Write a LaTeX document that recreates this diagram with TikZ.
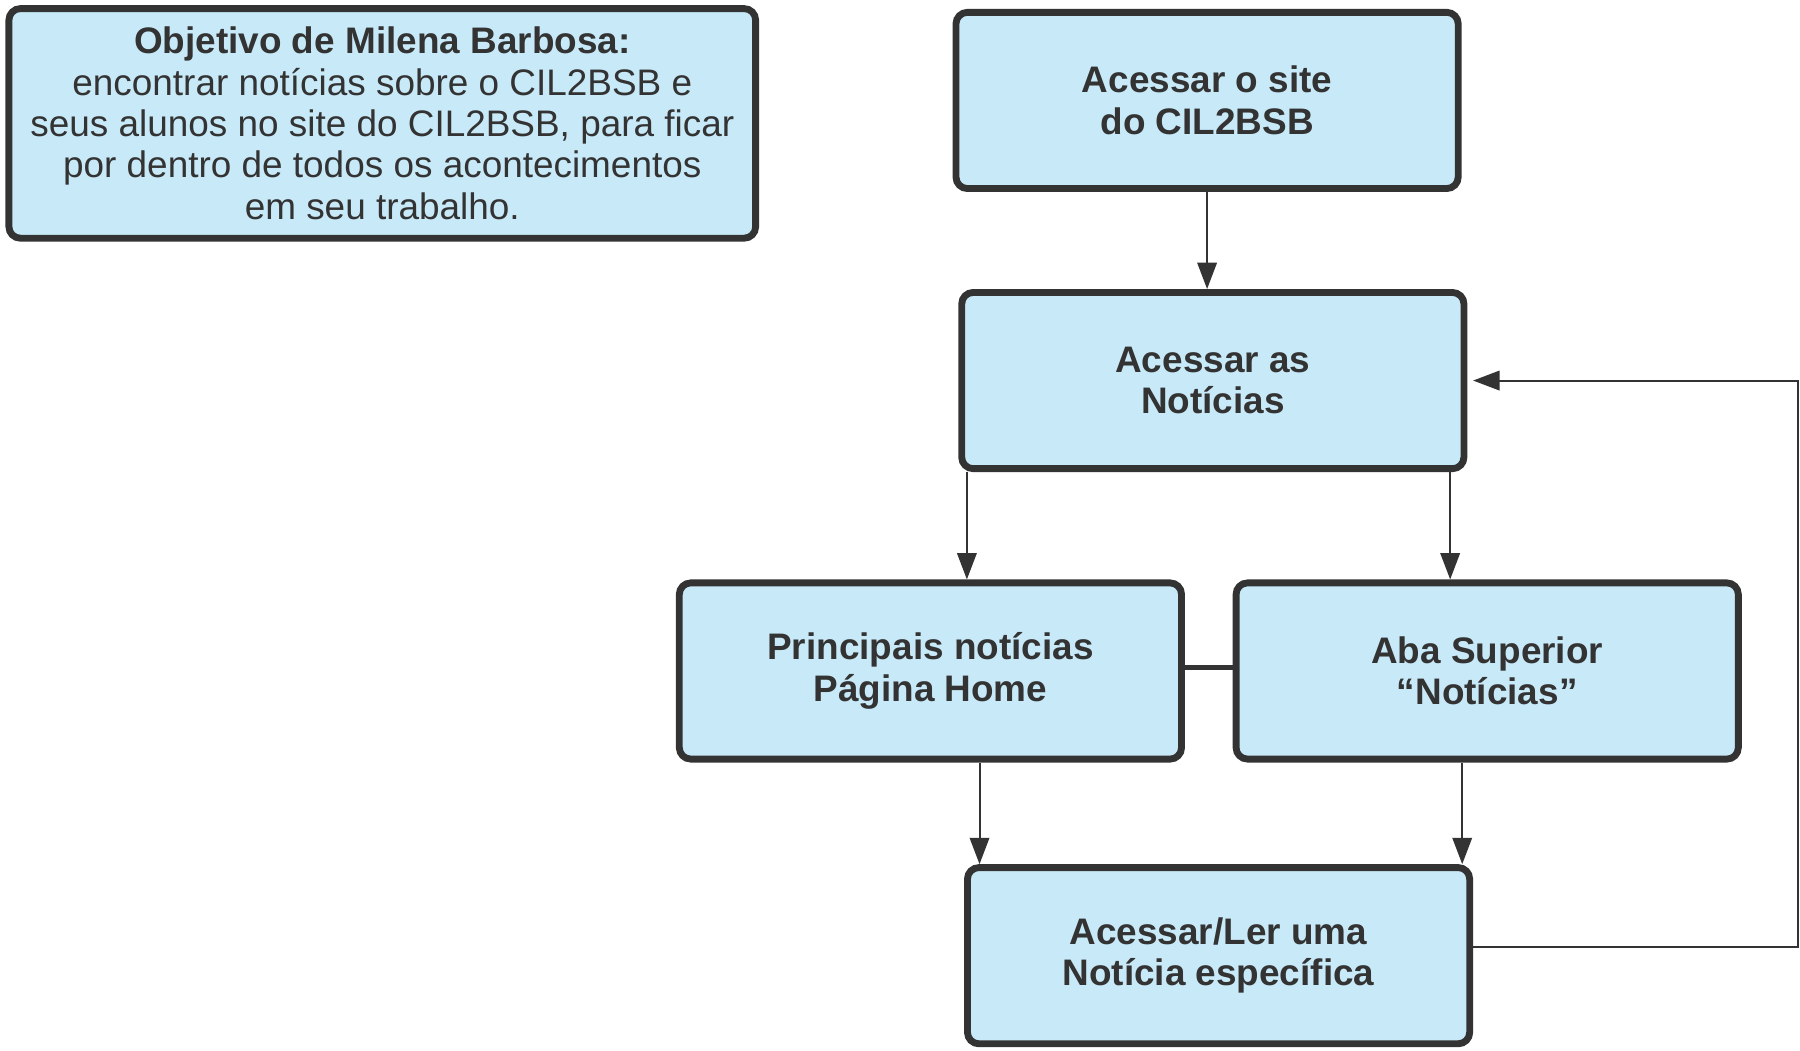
\documentclass[tikz,border=0pt]{standalone}
\usepackage{fontspec}
\setmainfont{Liberation Sans}
\usepackage{tikz}
\usetikzlibrary{arrows.meta}
\definecolor{ink}{RGB}{51,51,51}
\definecolor{boxfill}{RGB}{200,233,248}

\begin{document}
\begin{tikzpicture}[
	box/.style={draw=ink, fill=boxfill, line width=3.4pt, rounded corners=0.2cm,
		text=ink, align=center, font=\fontsize{18.3}{20.5}\selectfont,
		minimum width=8.75cm, minimum height=3.07cm, inner sep=0pt},
	arr/.style={draw=ink, line width=1pt, -{Triangle[length=0.46cm,width=0.34cm]}},
	link/.style={draw=ink, line width=2.6pt}]
	\useasboundingbox (0,0) rectangle (31.36,-18.3);

	\node[box, minimum width=13.01cm, minimum height=4.0cm] (goal) at (6.66,-2.15)
		{\textbf{Objetivo de Milena Barbosa:}\\encontrar notícias sobre o CIL2BSB e\\seus alunos no site do CIL2BSB, para ficar\\por dentro de todos os acontecimentos\\em seu trabalho.};

	\node[box] (site) at (21.03,-1.75) {\textbf{Acessar o site}\\\textbf{do CIL2BSB}};
	\node[box] (news) at (21.13,-6.63) {\textbf{Acessar as}\\\textbf{Notícias}};
	\node[box] (home) at (16.21,-11.69) {\textbf{Principais notícias}\\\textbf{Página Home}};
	\node[box] (tab) at (25.91,-11.69) {\textbf{Aba Superior}\\\textbf{“Notícias”}};
	\node[box] (read) at (21.23,-16.65) {\textbf{Acessar/Ler uma}\\\textbf{Notícia específica}};

	\coordinate (n1) at ([xshift=0.15cm]news.south west);
	\coordinate (n2) at ([xshift=-0.3cm]news.south east);
	\coordinate (r1) at ([xshift=0.27cm]read.north west);
	\coordinate (r2) at ([xshift=-0.19cm]read.north east);
	\coordinate (r3) at ([yshift=0.15cm]read.east);
	\coordinate (rt) at (31.32,0);

	\draw[arr] (site.south) -- (site.south |- news.north);
	\draw[arr] (n1) -- (n1 |- home.north);
	\draw[arr] (n2) -- (n2 |- tab.north);
	\draw[arr] (home.south -| r1) -- (r1);
	\draw[arr] (tab.south -| r2) -- (r2);
	\draw[link] ([yshift=0.06cm]home.east) -- ([yshift=0.06cm]tab.west);
	\draw[arr, shorten >=0.1cm] (r3) -- (r3 -| rt) |- (news.east);

\end{tikzpicture}
\end{document}
